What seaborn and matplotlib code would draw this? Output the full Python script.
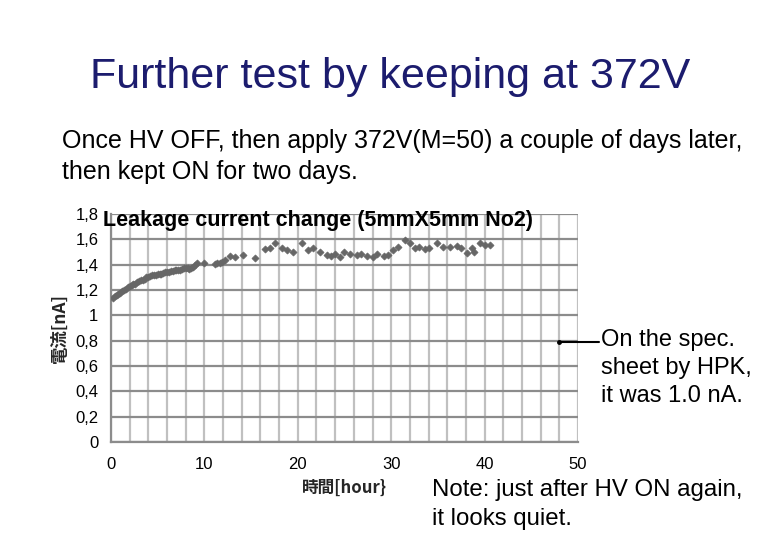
import numpy as np
import pandas as pd
import matplotlib
matplotlib.use("Agg")
import matplotlib.pyplot as plt
import seaborn as sns
from matplotlib.ticker import MultipleLocator, FuncFormatter

# leakage current readings [nA] vs time [hour]
hours = [0.2, 0.4, 0.6, 0.8, 1.0, 1.2, 1.4, 1.6, 1.8, 2.0,
         2.2, 2.4, 2.6, 2.8, 3.0, 3.2, 3.4, 3.6, 3.8, 4.0,
         4.2, 4.4, 4.6, 4.8, 5.0, 5.2, 5.4, 5.6, 5.8, 6.0,
         6.2, 6.4, 6.6, 6.8, 7.0, 7.2, 7.4, 7.6, 7.8, 8.0,
         8.2, 8.4, 8.6, 8.8, 9.0,
         9.2, 10.0, 11.1, 11.4, 11.7, 11.9, 12.2, 12.7, 13.3, 14.1,
         15.4, 16.5, 17.0, 17.6, 18.3, 18.8, 19.5, 20.5, 21.1, 21.6,
         22.4, 23.1, 23.6, 24.0, 24.5, 25.0, 25.6, 26.3, 26.8, 27.4,
         28.0, 28.5, 29.2, 29.7, 30.2, 30.7, 31.5, 32.0, 32.5, 33.0,
         33.6, 34.1, 34.9, 35.6, 36.3, 37.0, 37.5, 38.1, 38.6, 38.9,
         39.5, 40.0, 40.6]
current = [1.14, 1.15, 1.16, 1.17, 1.18, 1.19, 1.20, 1.21, 1.22, 1.23,
           1.24, 1.245, 1.25, 1.26, 1.27, 1.275, 1.28, 1.29, 1.30, 1.305,
           1.31, 1.315, 1.32, 1.32, 1.325, 1.33, 1.33, 1.335, 1.34, 1.34,
           1.345, 1.35, 1.35, 1.355, 1.355, 1.36, 1.36, 1.365, 1.37, 1.37,
           1.375, 1.365, 1.37, 1.38, 1.395,
           1.41, 1.41, 1.405, 1.41, 1.415, 1.42, 1.436, 1.468, 1.46, 1.476,
           1.45, 1.52, 1.53, 1.573, 1.53, 1.515, 1.50, 1.573, 1.515, 1.53,
           1.50, 1.48, 1.47, 1.485, 1.463, 1.50, 1.487, 1.48, 1.487, 1.468,
           1.463, 1.487, 1.468, 1.48, 1.515, 1.54, 1.594, 1.57, 1.53, 1.54,
           1.525, 1.53, 1.568, 1.54, 1.54, 1.545, 1.53, 1.494, 1.53, 1.50,
           1.568, 1.555, 1.555]

df = pd.DataFrame({"time": hours, "current": current})

sns.set_style("white")
plt.rcParams['font.family'] = ['Liberation Sans', 'Noto Sans CJK JP', 'DejaVu Sans']
plt.rcParams['text.color'] = 'black'
plt.rcParams['xtick.color'] = 'black'
plt.rcParams['ytick.color'] = 'black'
cjk = ['Noto Sans CJK JP', 'Liberation Sans']

fig = plt.figure(figsize=(7.8, 5.4), dpi=100)
ax = fig.add_axes([0.1423, 0.1815, 0.5987, 0.4222])

sns.scatterplot(data=df, x="time", y="current", marker="D", s=13,
                color="#666666", edgecolor="#666666", linewidth=0.5, ax=ax, zorder=3)

ax.set_xlim(0, 50)
ax.set_ylim(0, 1.8)
ax.xaxis.set_major_locator(MultipleLocator(10))
ax.xaxis.set_minor_locator(MultipleLocator(2))
ax.yaxis.set_major_locator(MultipleLocator(0.2))
ax.yaxis.set_major_formatter(FuncFormatter(
    lambda v, p: ("%g" % round(v, 1)).replace(".", ",")))
ax.grid(which="minor", axis="x", color="#c0c0c0", linewidth=1.6)
ax.grid(which="major", axis="x", color="#c0c0c0", linewidth=1.6)
ax.grid(which="major", axis="y", color="#8c8c8c", linewidth=1.6)
ax.set_axisbelow(True)
for s in ["top", "right"]:
    ax.spines[s].set_visible(False)
for s in ["left", "bottom"]:
    ax.spines[s].set_color("#8c8c8c")
    ax.spines[s].set_linewidth(1.6)
ax.tick_params(axis="both", which="major", length=5, width=1.2, color="#8c8c8c",
               labelsize=12, pad=4, labelcolor="black")
ax.tick_params(axis="x", which="major", pad=6)
ax.tick_params(axis="x", which="minor", length=0)

ax.set_xlabel("時間[hour}", fontsize=12, fontweight="bold", family=cjk, labelpad=5)
ax.set_ylabel("電流[nA]", fontsize=12.5, fontweight="bold", family=cjk, labelpad=2)
ax.yaxis.set_label_coords(-0.09, 0.5)

ax.text(-0.017, 0.97, "Leakage current change (5mmX5mm No2)", transform=ax.transAxes,
        fontsize=15.5, fontweight="bold", va="center", ha="left")

# pointer line to the spec note
line_x = [48.0, 52.3]
line_y = [0.79, 0.79]
ax.plot(line_x, line_y, color="black", linewidth=1.5, clip_on=False, zorder=4)
ax.plot(line_x[0], line_y[0], marker="o", markersize=2.5, color="black", clip_on=False, zorder=4)

fig.text(0.5, 0.857, "Further test by keeping at 372V", ha="center", va="center",
         fontsize=31, color="#1c1c6e")
fig.text(0.079, 0.710, "Once HV OFF, then apply 372V(M=50) a couple of days later,\nthen kept ON for two days.",
         ha="left", va="center", fontsize=18, linespacing=1.36)
fig.text(0.771, 0.318, "On the spec.\nsheet by HPK,\nit was 1.0 nA.", ha="left", va="center",
         fontsize=17, linespacing=1.36)
fig.text(0.554, 0.066, "Note: just after HV ON again,\nit looks quiet.", ha="left", va="center",
         fontsize=17.3, linespacing=1.38)

fig.savefig("out.png", dpi=100)
